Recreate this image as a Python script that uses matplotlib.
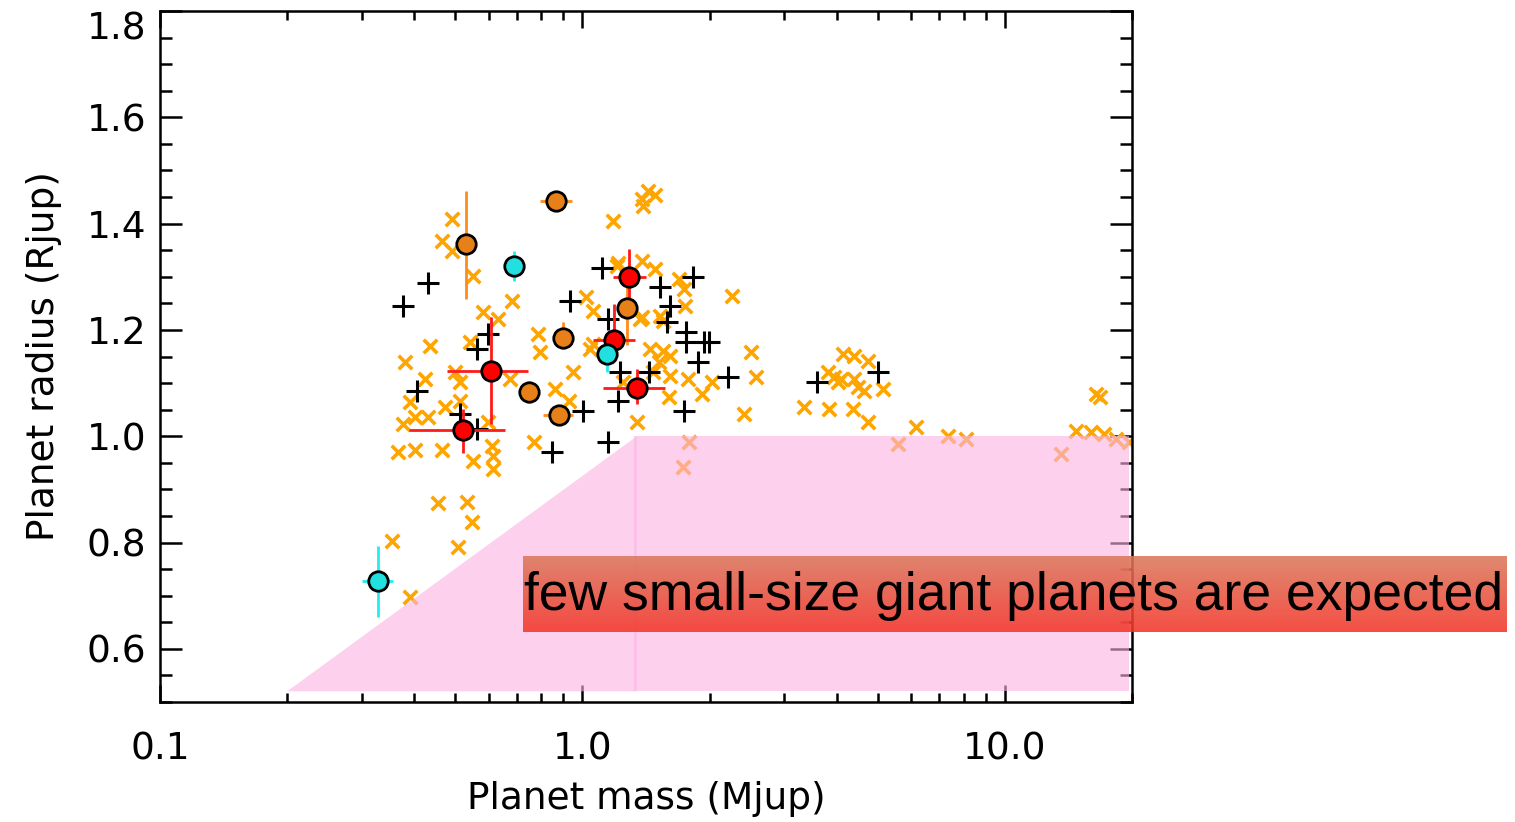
import numpy as np
import matplotlib.pyplot as plt
from matplotlib.ticker import MultipleLocator, NullFormatter, LogLocator
from matplotlib.patches import Polygon

# known transiting planets (orange x)
pop_mass = [1.433, 1.482, 1.395, 1.387, 1.184, 0.492, 0.466, 0.492, 0.552, 0.683,
            0.583, 0.632, 0.543, 0.436, 0.381, 0.787, 0.795, 0.952, 0.863, 0.927,
            0.425, 0.500, 0.514, 0.675, 0.391, 0.473, 0.514, 0.402, 0.432, 0.377,
            0.599, 0.365, 0.402, 0.466, 0.552, 0.612, 0.615, 0.615, 0.766, 0.456,
            0.534, 0.549, 0.508, 0.355, 0.391, 1.017, 1.062, 1.210, 1.387, 1.489,
            1.689, 1.735, 1.754, 1.387, 1.548, 2.266, 1.548, 1.616, 2.50, 1.062,
            1.514, 1.473, 1.774, 2.032, 1.599, 1.924, 2.57, 2.408, 1.350, 1.783,
            1.726, 1.251, 4.13, 4.39, 4.74, 3.81, 3.93, 4.09, 4.39, 4.02,
            4.48, 4.63, 5.14, 3.34, 3.83, 4.36, 4.74, 6.15, 5.58, 7.33,
            8.08, 13.6, 16.4, 16.8, 14.7, 16.0, 17.2, 18.3, 19.7, 1.616,
            1.449, 1.372, 1.530, 1.044, 1.217]
pop_rad = [1.462, 1.453, 1.434, 1.447, 1.404, 1.409, 1.368, 1.349, 1.302, 1.255,
           1.234, 1.221, 1.177, 1.170, 1.140, 1.192, 1.158, 1.121, 1.089, 1.066,
           1.108, 1.121, 1.102, 1.108, 1.064, 1.055, 1.066, 1.036, 1.036, 1.023,
           1.026, 0.970, 0.975, 0.975, 0.953, 0.981, 0.962, 0.938, 0.989, 0.875,
           0.877, 0.838, 0.791, 0.802, 0.698, 1.262, 1.236, 1.321, 1.330, 1.315,
           1.296, 1.277, 1.245, 1.225, 1.217, 1.264, 1.160, 1.151, 1.158, 1.174,
           1.140, 1.121, 1.108, 1.102, 1.074, 1.079, 1.111, 1.042, 1.026, 0.989,
           0.942, 1.102, 1.155, 1.151, 1.142, 1.121, 1.111, 1.108, 1.108, 1.102,
           1.092, 1.085, 1.089, 1.055, 1.051, 1.051, 1.026, 1.017, 0.985, 1.000,
           0.994, 0.966, 1.079, 1.074, 1.009, 1.008, 1.004, 0.994, 0.989, 1.113,
           1.164, 1.221, 1.226, 1.164, 1.325]

# other planets (black +)
oth_mass = [0.377, 0.432, 0.407, 0.514, 0.564, 0.599, 0.937, 1.005, 0.845, 1.152,
            1.115, 1.152, 1.23, 1.434, 1.217, 1.53, 1.616, 1.59, 1.823, 1.763,
            1.755, 1.936, 1.999, 1.873, 2.21, 1.735, 3.60, 5.02, 0.564]
oth_rad = [1.245, 1.289, 1.085, 1.042, 1.164, 1.192, 1.255, 1.047, 0.970, 0.989,
           1.317, 1.221, 1.121, 1.121, 1.066, 1.281, 1.245, 1.215, 1.300, 1.177,
           1.196, 1.177, 1.177, 1.140, 1.111, 1.047, 1.102, 1.121, 1.013]

# numbered planets, three groups
org_mass = [0.865, 0.53, 0.90, 0.749, 0.882, 1.278]
org_rad = [1.443, 1.362, 1.185, 1.083, 1.040, 1.242]
org_mlo = [0.07, 0.02, 0.05, 0.03, 0.074, 0.0]
org_mhi = [0.082, 0.02, 0.05, 0.03, 0.07, 0.0]
org_rlo = [0.0, 0.104, 0.02, 0.02, 0.015, 0.07]
org_rhi = [0.0, 0.10, 0.03, 0.02, 0.015, 0.04]

red_mass = [1.292, 1.19, 1.35, 0.609, 0.522]
red_rad = [1.300, 1.181, 1.091, 1.123, 1.011]
red_mlo = [0.11, 0.13, 0.23, 0.13, 0.133]
red_mhi = [0.12, 0.145, 0.22, 0.135, 0.135]
red_rlo = [0.06, 0.026, 0.03, 0.10, 0.043]
red_rhi = [0.053, 0.068, 0.035, 0.102, 0.04]

cyn_mass = [0.690, 1.146, 0.329]
cyn_rad = [1.321, 1.155, 0.728]
cyn_mlo = [0.0, 0.0, 0.029]
cyn_mhi = [0.0, 0.0, 0.028]
cyn_rlo = [0.029, 0.035, 0.068]
cyn_rhi = [0.028, 0.025, 0.066]

# region where few planets are expected
tri_region = [(0.2, 0.52), (1.345, 1.0), (1.345, 0.52)]
box_region = [(1.325, 0.52), (1.325, 1.0), (19.7, 1.0), (19.7, 0.52)]

plt.rcParams['font.family'] = ['DejaVu Sans']

fig = plt.figure(figsize=(15.15, 8.22), dpi=100)
ax = fig.add_axes([0.1056, 0.146, 0.6416, 0.8406])

ax.scatter(pop_mass, pop_rad, marker='x', s=95, color='orange', linewidths=2.6, zorder=2)
ax.scatter(oth_mass, oth_rad, marker='+', s=260, color='black', linewidths=2.2, zorder=3)

for pts in (tri_region, box_region):
    ax.add_patch(Polygon(pts, closed=True, facecolor=(0.988, 0.70, 0.89), alpha=0.6,
                         edgecolor='none', zorder=4))

groups = [
    (org_mass, org_rad, org_mlo, org_mhi, org_rlo, org_rhi, '#e8801a', '#ff8c1a'),
    (red_mass, red_rad, red_mlo, red_mhi, red_rlo, red_rhi, '#ff0000', '#ff1a1a'),
    (cyn_mass, cyn_rad, cyn_mlo, cyn_mhi, cyn_rlo, cyn_rhi, '#22e0e0', '#22eeee'),
]
for m, r, mlo, mhi, rlo, rhi, fc, ec in groups:
    ax.errorbar(m, r, xerr=[mlo, mhi], yerr=[rlo, rhi], fmt='none', ecolor=ec,
                elinewidth=2.0, capsize=0, zorder=5)
    ax.plot(m, r, 'o', markersize=14, markerfacecolor=fc, markeredgecolor='black',
            markeredgewidth=2.0, linestyle='none', zorder=6)

ax.set_xscale('log')
ax.set_xlim(0.1, 20)
ax.set_ylim(0.5, 1.8)
ax.set_xticks([0.1, 1.0, 10.0])
ax.set_xticklabels(['0.1', '1.0', '10.0'])
ax.xaxis.set_minor_locator(LogLocator(base=10, subs=np.arange(2, 10)))
ax.xaxis.set_minor_formatter(NullFormatter())
ax.set_yticks([0.6, 0.8, 1.0, 1.2, 1.4, 1.6, 1.8])
ax.set_yticklabels(['0.6', '0.8', '1.0', '1.2', '1.4', '1.6', '1.8'])
ax.yaxis.set_minor_locator(MultipleLocator(0.05))

ax.tick_params(axis='both', which='both', direction='in', top=True, right=True,
               width=1.8, labelsize=27)
ax.tick_params(axis='x', which='major', length=12, pad=21)
ax.tick_params(axis='x', which='minor', length=6.5)
ax.tick_params(axis='y', which='major', length=16, pad=10)
ax.tick_params(axis='y', which='minor', length=8.5)
for sp in ax.spines.values():
    sp.set_linewidth(1.8)

ax.get_yticklabels()[-1].set_verticalalignment('top')

ax.set_xlabel('Planet mass (Mjup)', fontsize=27)
ax.set_ylabel('Planet radius (Rjup)', fontsize=27)
ax.xaxis.set_label_coords(0.5, -0.114)
ax.yaxis.set_label_coords(-0.101, 0.5)

# annotation banner
bx = fig.add_axes([0.3452, 0.2311, 0.6495, 0.0925])
top = np.array([218, 122, 92]) / 255
bot = np.array([244, 54, 42]) / 255
t = np.linspace(0, 1, 64)[:, None, None]
grad = top * (1 - t) + bot * t
bx.imshow(grad, aspect='auto', extent=[0, 1, 0, 1], alpha=0.88)
bx.set_xlim(0, 1)
bx.set_ylim(0, 1)
bx.axis('off')
bx.text(0.4985, 0.47, 'few small-size giant planets are expected', fontsize=38.5,
        family='Liberation Sans', ha='center', va='center', color='black')

fig.savefig('out.png', dpi=100)
